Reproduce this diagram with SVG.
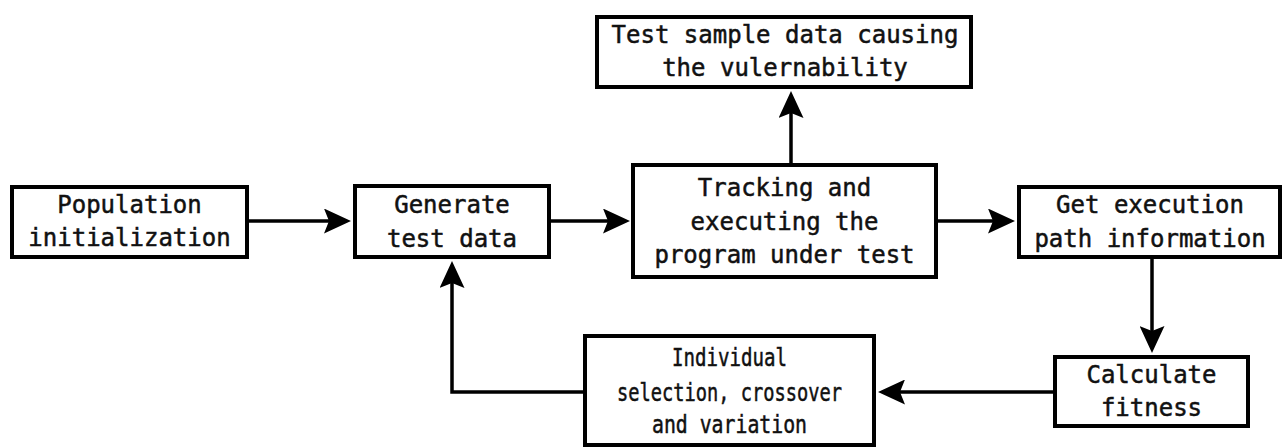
<svg xmlns="http://www.w3.org/2000/svg" width="1287" height="448" viewBox="0 0 1287 448">
  <style>
    .box { fill: #ffffff; stroke: #000000; stroke-width: 4; }
    .lbl { font-family: "DejaVu Sans Mono", "Liberation Mono", monospace; font-size: 24px; fill: #111111; stroke: #111111; stroke-width: 0.5; text-anchor: middle; }
    .wire { fill: none; stroke: #000000; stroke-width: 3.5; stroke-linejoin: miter; }
  </style>
  <defs>
    <marker id="head" viewBox="0 0 27 25" refX="19" refY="12.5" markerWidth="27" markerHeight="25" markerUnits="userSpaceOnUse" orient="auto">
      <path d="M0,0 L27,12.5 L0,25 L5,12.5 z" fill="#000000"/>
    </marker>
  </defs>
  <rect width="1287" height="448" fill="#ffffff"/>

  <g id="connectors">
    <path class="wire" d="M249,221 H343" marker-end="url(#head)"/>
    <path class="wire" d="M551,221 H622" marker-end="url(#head)"/>
    <path class="wire" d="M938,221 H1007" marker-end="url(#head)"/>
    <path class="wire" d="M791,163 V99" marker-end="url(#head)"/>
    <path class="wire" d="M1152,259 V345" marker-end="url(#head)"/>
    <path class="wire" d="M1053,392 H886" marker-end="url(#head)"/>
    <path class="wire" d="M583,392 H452 V269" marker-end="url(#head)"/>
  </g>

  <g id="population-init">
    <rect class="box" x="12" y="187" width="235" height="70"/>
    <text class="lbl" x="129.5" y="213">Population</text>
    <text class="lbl" x="129.5" y="246">initialization</text>
  </g>

  <g id="generate-test-data">
    <rect class="box" x="355" y="186" width="194" height="71"/>
    <text class="lbl" x="452" y="213">Generate</text>
    <text class="lbl" x="452" y="247">test data</text>
  </g>

  <g id="vulnerable-samples">
    <rect class="box" x="597" y="17" width="374" height="70"/>
    <text class="lbl" x="785" y="43">Test sample data causing</text>
    <text class="lbl" x="785" y="76">the vulernability</text>
  </g>

  <g id="track-execute">
    <rect class="box" x="633" y="165" width="303" height="112"/>
    <text class="lbl" x="784.5" y="196">Tracking and</text>
    <text class="lbl" x="784.5" y="230">executing the</text>
    <text class="lbl" x="784.5" y="263">program under test</text>
  </g>

  <g id="path-info">
    <rect class="box" x="1019" y="187" width="261" height="70"/>
    <text class="lbl" x="1150" y="213">Get execution</text>
    <text class="lbl" x="1150" y="247">path information</text>
  </g>

  <g id="fitness">
    <rect class="box" x="1055" y="357" width="193" height="69"/>
    <text class="lbl" x="1151.5" y="383">Calculate</text>
    <text class="lbl" x="1151.5" y="416">fitness</text>
  </g>

  <g id="genetic-ops">
    <rect class="box" x="585" y="336" width="289" height="109"/>
    <text class="lbl" x="729.5" y="366" textLength="115" lengthAdjust="spacingAndGlyphs">Individual</text>
    <text class="lbl" x="729.5" y="401" textLength="225" lengthAdjust="spacingAndGlyphs">selection, crossover</text>
    <text class="lbl" x="729.5" y="433" textLength="155" lengthAdjust="spacingAndGlyphs">and variation</text>
  </g>
</svg>
